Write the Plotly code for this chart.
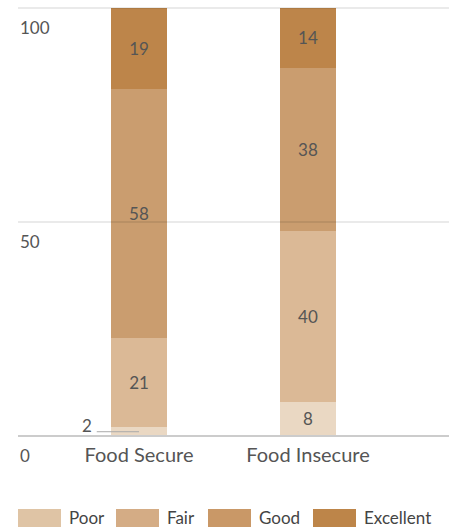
import plotly.graph_objects as go

categories = ["Food Secure", "Food Insecure"]
series_names = ["Poor", "Fair", "Good", "Excellent"]
poor = [2, 8]
fair = [21, 40]
good = [58, 38]
excellent = [19, 14]
y_ticks = [0, 50, 100]
y_tick_labels = ["0", "50", "100"]

values = [poor, fair, good, excellent]
bar_colors = ["#ead8c3", "#dbb996", "#ca9d6f", "#bd854a"]
legend_colors = ["#dfc4a5", "#d4ac85", "#c99867", "#bd8549"]
FONT = "Lato"
TXT = "#555555"

fig = go.Figure()
for name, vals, col in zip(series_names, values, bar_colors):
    texts = [str(v) if v >= 5 else "" for v in vals]
    fig.add_trace(go.Bar(
        x=categories, y=vals, name=name, marker=dict(color=col, line=dict(width=0)),
        text=texts, textposition="inside", insidetextanchor="middle",
        textfont=dict(family=FONT, size=17, color=TXT), width=0.33,
        showlegend=False, hoverinfo="skip",
    ))

# outside label for small segment
fig.add_shape(type="line", xref="x", yref="y", x0=-0.25, x1=0, y0=poor[0] / 2, y1=poor[0] / 2,
              line=dict(color="#aaaaaa", width=1), layer="above")
fig.add_annotation(x=-0.25, y=poor[0] / 2, xref="x", yref="y", text=str(poor[0]), showarrow=False,
                   xanchor="right", yanchor="middle", xshift=-3, yshift=6,
                   font=dict(family=FONT, size=17, color=TXT))

# gridlines above bars
for t in y_ticks[1:]:
    fig.add_shape(type="line", xref="paper", yref="paper", x0=0, x1=1, y0=t / 100, y1=t / 100,
                  line=dict(color="rgba(0,0,0,0.17)", width=1), layer="above")
fig.add_shape(type="line", xref="paper", yref="paper", x0=0, x1=1, y0=0, y1=0,
              line=dict(color="#cccccc", width=2), layer="above")

# y tick labels, placed below their gridlines
for t, lab in zip(y_ticks, y_tick_labels):
    fig.add_annotation(xref="paper", yref="paper", x=0, y=t / 100, text=lab, showarrow=False,
                       xanchor="left", yanchor="middle", yshift=-19, xshift=0,
                       font=dict(family=FONT, size=17, color=TXT))

# legend (custom swatches)
sw_x = [18, 116, 208, 313]
W, H = 449, 527
for name, col, x0 in zip(series_names, legend_colors, sw_x):
    fig.add_shape(type="rect", xref="paper", yref="paper",
                  x0=(x0 - 18) / 431, x1=(x0 + 43 - 18) / 431,
                  y0=(436 - 527) / 428, y1=(436 - 509) / 428,
                  line=dict(width=0), fillcolor=col)
    fig.add_annotation(xref="paper", yref="paper", x=(x0 + 49 - 18) / 431, y=(436 - 517) / 428,
                       text=name, showarrow=False, xanchor="left", yanchor="middle",
                       font=dict(family=FONT, size=17, color="#444444"))

fig.update_layout(
    width=W, height=H, margin=dict(l=18, r=0, t=8, b=91),
    plot_bgcolor="white", paper_bgcolor="white", barmode="stack",
    font=dict(family=FONT, size=17, color=TXT),
    xaxis=dict(range=[-0.716, 1.834], showgrid=False, zeroline=False, showline=False,
               ticks="", ticklabelstandoff=5, tickfont=dict(family=FONT, size=20, color=TXT)),
    yaxis=dict(range=[0, 100], showgrid=False, zeroline=False, showline=False,
               ticks="", showticklabels=False),
)
fig.write_html("out.html")
